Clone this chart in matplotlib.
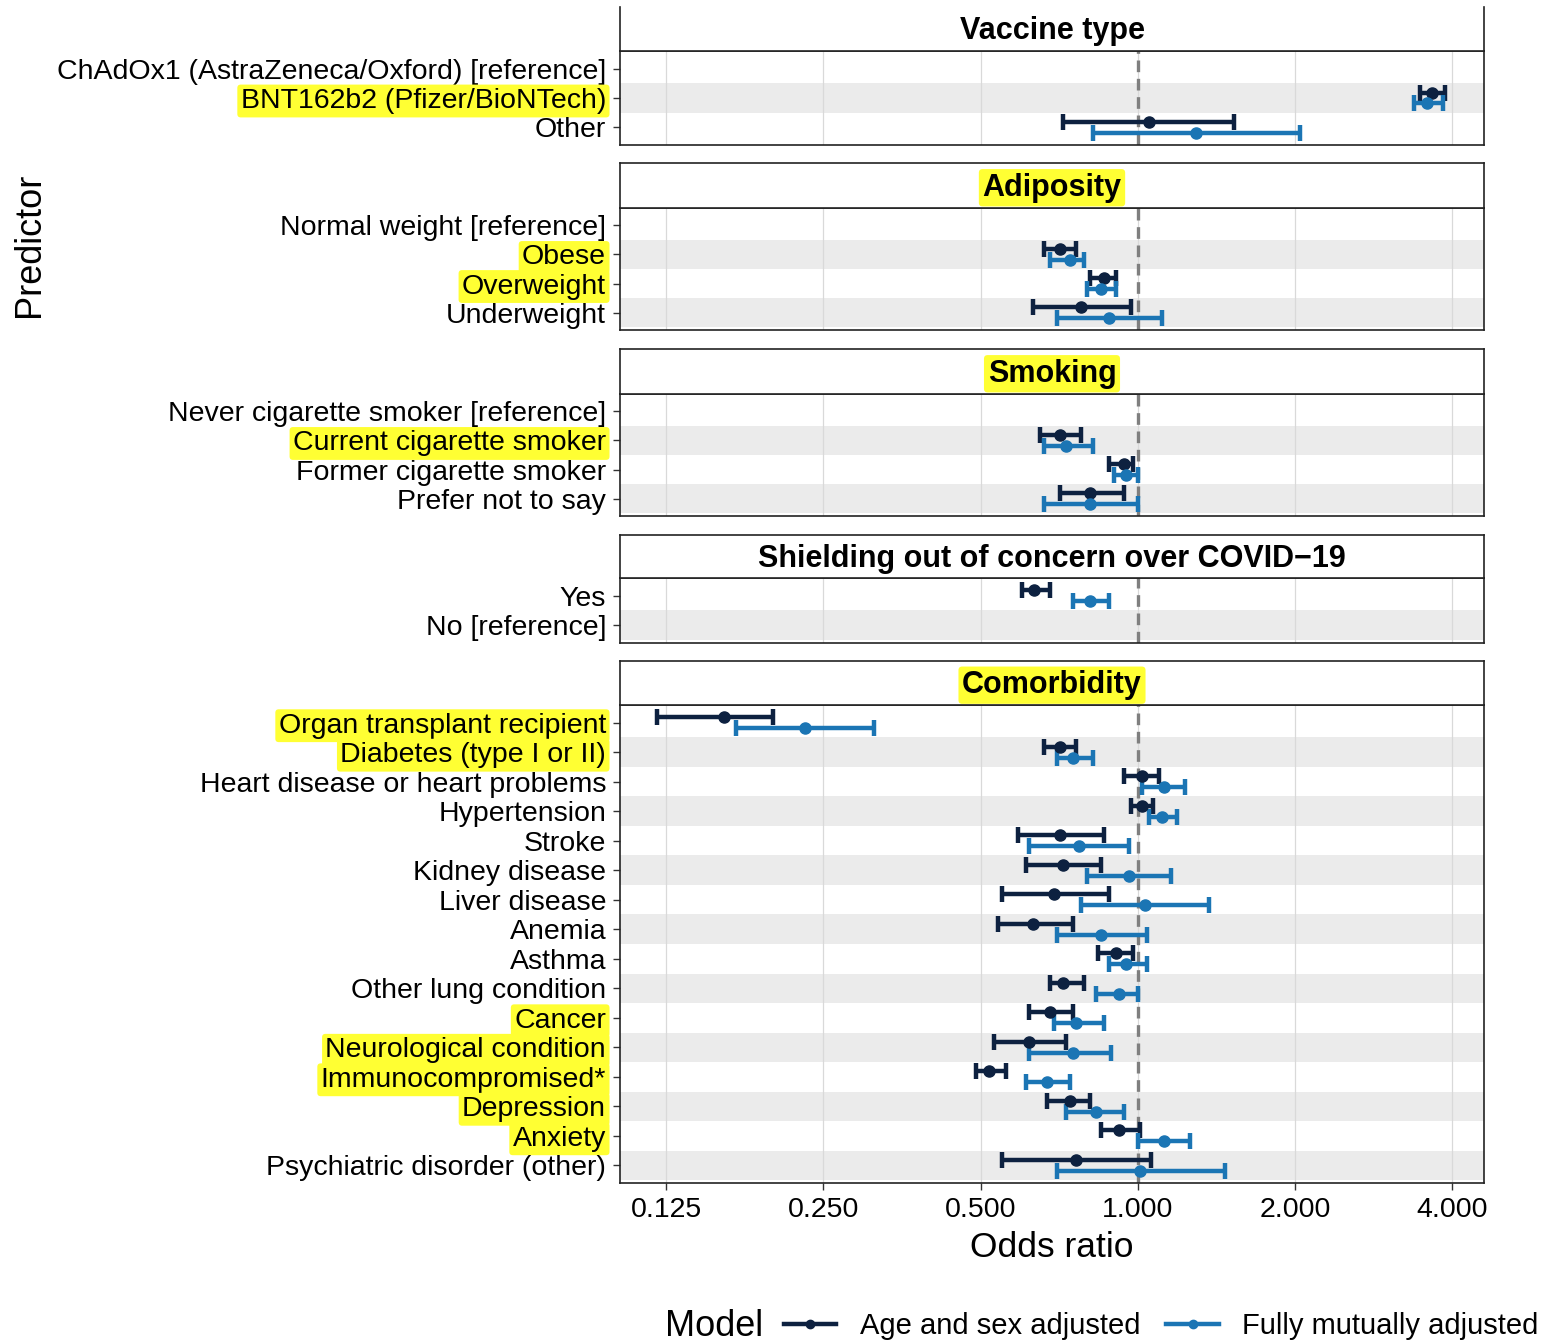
import numpy as np
import matplotlib.pyplot as plt
from matplotlib.lines import Line2D
from matplotlib.ticker import NullLocator

plt.rcParams['font.family'] = ['Liberation Sans', 'DejaVu Sans']

nan = np.nan

# panel titles, top to bottom
panels = ["Vaccine type", "Adiposity", "Smoking",
          "Shielding out of concern over COVID\u221219", "Comorbidity"]

predictors = [
    "ChAdOx1 (AstraZeneca/Oxford) [reference]", "BNT162b2 (Pfizer/BioNTech)", "Other",
    "Normal weight [reference]", "Obese", "Overweight", "Underweight",
    "Never cigarette smoker [reference]", "Current cigarette smoker",
    "Former cigarette smoker", "Prefer not to say",
    "Yes", "No [reference]",
    "Organ transplant recipient", "Diabetes (type I or II)",
    "Heart disease or heart problems", "Hypertension", "Stroke", "Kidney disease",
    "Liver disease", "Anemia", "Asthma", "Other lung condition", "Cancer",
    "Neurological condition", "Immunocompromised*", "Depression", "Anxiety",
    "Psychiatric disorder (other)",
]
groups = [0] * 3 + [1] * 4 + [2] * 4 + [3] * 2 + [4] * 16

# age and sex adjusted odds ratios
age_or = [nan, 3.65, 1.05,
          nan, 0.71, 0.86, 0.78,
          nan, 0.71, 0.94, 0.81,
          0.634, nan,
          0.161, 0.71, 1.02, 1.02, 0.71, 0.72, 0.69, 0.63, 0.91, 0.72, 0.68,
          0.62, 0.52, 0.74, 0.92, 0.76]
age_lo = [nan, 3.47, 0.72,
          nan, 0.66, 0.81, 0.63,
          nan, 0.65, 0.88, 0.71,
          0.60, nan,
          0.12, 0.66, 0.94, 0.97, 0.59, 0.61, 0.55, 0.54, 0.84, 0.68, 0.62,
          0.53, 0.49, 0.67, 0.85, 0.55]
age_hi = [nan, 3.88, 1.53,
          nan, 0.76, 0.91, 0.97,
          nan, 0.78, 0.98, 0.94,
          0.68, nan,
          0.20, 0.76, 1.10, 1.07, 0.86, 0.85, 0.88, 0.75, 0.98, 0.79, 0.75,
          0.73, 0.56, 0.81, 1.01, 1.06]

# fully mutually adjusted odds ratios
full_or = [nan, 3.58, 1.29,
           nan, 0.74, 0.85, 0.88,
           nan, 0.73, 0.95, 0.81,
           0.81, nan,
           0.231, 0.75, 1.12, 1.11, 0.77, 0.96, 1.03, 0.85, 0.95, 0.92, 0.76,
           0.75, 0.67, 0.83, 1.12, 1.01]
full_lo = [nan, 3.38, 0.82,
           nan, 0.68, 0.80, 0.70,
           nan, 0.66, 0.90, 0.66,
           0.75, nan,
           0.170, 0.70, 1.02, 1.05, 0.62, 0.80, 0.78, 0.70, 0.88, 0.83, 0.69,
           0.62, 0.61, 0.73, 1.00, 0.70]
full_hi = [nan, 3.84, 2.04,
           nan, 0.79, 0.91, 1.11,
           nan, 0.82, 1.00, 1.00,
           0.88, nan,
           0.313, 0.82, 1.23, 1.19, 0.96, 1.16, 1.37, 1.04, 1.04, 1.00, 0.86,
           0.89, 0.74, 0.94, 1.26, 1.47]

highlighted = {"BNT162b2 (Pfizer/BioNTech)", "Obese", "Overweight",
               "Current cigarette smoker", "Organ transplant recipient",
               "Diabetes (type I or II)", "Cancer", "Neurological condition",
               "Immunocompromised*", "Depression", "Anxiety",
               "Adiposity", "Smoking", "Comorbidity"}

x_ticks = [0.125, 0.25, 0.5, 1.0, 2.0, 4.0]
x_ticklabels = ["0.125", "0.250", "0.500", "1.000", "2.000", "4.000"]

dark = "#0d2140"
light = "#1b75b4"
yellow = "#ffff33"

W, H = 1541, 1342
fig = plt.figure(figsize=(W / 100, H / 100), dpi=100)


def px_axes(x0, y0, x1, y1):
    return fig.add_axes([x0 / W, 1 - y1 / H, (x1 - x0) / W, (y1 - y0) / H])


# strip top, panel top, panel bottom (pixels)
boxes = [(7, 51, 145), (163, 208, 330), (349, 394, 516),
         (535, 578, 643), (661, 705, 1183)]
left, right = 620, 1484
hl_box = dict(facecolor=yellow, edgecolor="none", boxstyle="round,pad=0.12")

for p, title in enumerate(panels):
    s_top, p_top, p_bot = boxes[p]
    rows = [i for i, g in enumerate(groups) if g == p]
    n = len(rows)
    ax = px_axes(left, p_top, right, p_bot)
    ax.set_xscale("log", base=2)
    ax.set_xlim(0.102, 4.6)
    ax.set_ylim(n - 1 + 0.6, -0.6)
    for k in range(1, n, 2):
        ax.axhspan(k - 0.5, k + 0.5, color="#ebebeb", lw=0, zorder=0)
    for t in x_ticks:
        ax.axvline(t, color="#d9d9d9", lw=0.9, zorder=0.5)
    ax.axvline(1.0, color="#7f7f7f", ls=(0, (3.5, 2)), lw=2.4, zorder=1)

    for series, off, col in [((age_or, age_lo, age_hi), -0.18, dark),
                             ((full_or, full_lo, full_hi), 0.18, light)]:
        est, lo, hi = (np.array([s[i] for i in rows]) for s in series)
        ok = ~np.isnan(est)
        y = np.arange(n)[ok] + off
        ax.errorbar(est[ok], y, xerr=[est[ok] - lo[ok], hi[ok] - est[ok]],
                    fmt="o", color=col, ms=8, lw=3.2, capsize=6, capthick=3.2,
                    zorder=3)

    ax.set_yticks(range(n))
    ax.set_yticklabels([predictors[i] for i in rows], fontsize=20.5)
    for lbl in ax.get_yticklabels():
        if lbl.get_text() in highlighted:
            lbl.set_bbox(hl_box)
    ax.tick_params(axis="y", length=5, width=1, color="#333333", pad=5)
    ax.set_xticks(x_ticks)
    ax.xaxis.set_minor_locator(NullLocator())
    if p == len(panels) - 1:
        ax.set_xticklabels(x_ticklabels, fontsize=20.5)
        ax.tick_params(axis="x", length=5, width=1, color="#333333", pad=5)
        ax.set_xlabel("Odds ratio", fontsize=25.5, labelpad=6)
    else:
        ax.set_xticklabels([])
        ax.tick_params(axis="x", length=0)
    for sp in ax.spines.values():
        sp.set_color("#222222")
        sp.set_linewidth(1.2)

    sax = px_axes(left, s_top, right, p_top)
    sax.set_xticks([])
    sax.set_yticks([])
    for sp in sax.spines.values():
        sp.set_color("#222222")
        sp.set_linewidth(1.2)
    if p == 0:
        # top edge of the first strip is cut off in the original
        sax.spines["top"].set_visible(False)
    sax.text(0.5, 0.45, title, ha="center", va="center", fontsize=22,
             fontweight="bold", transform=sax.transAxes,
             bbox=hl_box if title in highlighted else None)

fig.text(30 / W, 1 - 245 / H, "Predictor", rotation=90, fontsize=26,
         ha="center", va="center")

handles = [Line2D([], [], color=dark, lw=3.2, marker="o", ms=6),
           Line2D([], [], color=light, lw=3.2, marker="o", ms=6)]
fig.text(665 / W, 1 - 1326 / H, "Model", fontsize=26, va="center", ha="left")
fig.legend(handles, ["Age and sex adjusted", "Fully mutually adjusted"],
           loc="center left", bbox_to_anchor=(772 / W, 1 - 1326 / H), ncol=2,
           frameon=False, fontsize=21, handlelength=1.8, columnspacing=0.9,
           handletextpad=0.8, borderaxespad=0)

fig.savefig("out.png", dpi=100)
